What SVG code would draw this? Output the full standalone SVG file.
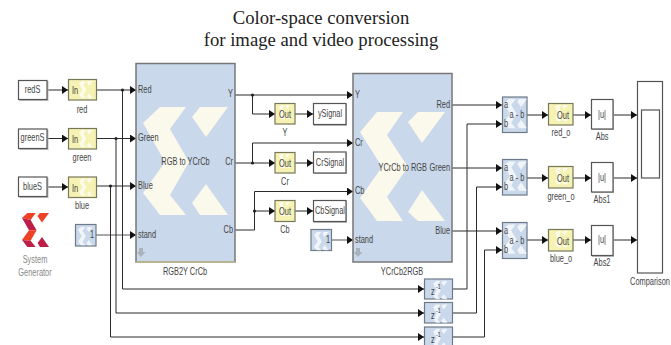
<svg xmlns="http://www.w3.org/2000/svg" xmlns:xlink="http://www.w3.org/1999/xlink" width="671" height="345" viewBox="0 0 671 345">
<style>
text{font-family:"Liberation Sans",Arial,sans-serif;font-size:10px;fill:#444;transform-box:fill-box;transform-origin:0% 50%;transform:scaleX(.74)}
.t{font-family:"Liberation Serif","Times New Roman",serif;font-size:18.7px;fill:#222;text-anchor:middle;transform:none}
.m{text-anchor:middle;transform-origin:50% 50%}
.e{text-anchor:end;transform-origin:100% 50%}
.w{fill:#fff;stroke:#555;stroke-width:1.2}
.sh{fill:#bbb}
.y{fill:#f5f2b4;stroke:#77775a;stroke-width:1.2}
.b{fill:#cad8eb;stroke:#6d7a88;stroke-width:1.2}
.big{fill:#cad8eb;stroke:#777;stroke-width:1.5}
.c{fill:none;stroke:#2a2a2a;stroke-width:1}
.a{marker-end:url(#ar)}
.d{fill:#222}
.xb{fill:#fbf8ec}
.xs{fill:#fff;opacity:.75}
.ar2{fill:#aab2bb}
</style>
<defs>
<marker id="ar" markerUnits="userSpaceOnUse" markerWidth="7" markerHeight="8" refX="6" refY="4" orient="auto"><path d="M0 0L6 4L0 8Z" fill="#111"/></marker>
<g id="xm">
<path d="M0 16L17 0H43L27 22L46 55L27 88L43 108H17L0 86L22 55Z"/>
<path d="M49 10L57 0H85L63 30Z"/>
<path d="M49 96L63 77L85 108H57Z"/>
</g>
</defs>

<text class="t" x="321" y="23.500">Color-space conversion</text>
<text class="t" x="321" y="45.500">for image and video processing</text>

<g id="connectors">
<path class="c a" d="M47 90H68"/><path class="c a" d="M47 138.500H68"/><path class="c a" d="M47 187H68"/>
<path class="c a" d="M97 90H136"/><path class="c a" d="M97 138.500H136"/><path class="c a" d="M97 186H136"/>
<path class="c a" d="M96 235H136" style="stroke:#555"/>
<path class="c a" d="M122.500 90V289H424"/>
<path class="c a" d="M116 138.500V313H424"/>
<path class="c a" d="M110.500 186V337H424"/>
<path class="c a" d="M235 95H353"/>
<path class="c a" d="M252.500 95V114H275"/>
<path class="c a" d="M295 114H313"/>
<path class="c" d="M235 163H252.500"/>
<path class="c a" d="M252.500 163V143H353"/>
<path class="c a" d="M252.500 163H275"/>
<path class="c a" d="M295 163H313"/>
<path class="c" d="M235 230H254.500"/>
<path class="c a" d="M254.500 230V191.500H353"/>
<path class="c a" d="M254.500 211H275"/>
<path class="c a" d="M295 211H313"/>
<path class="c a" d="M332 240H353" style="stroke:#555"/>
<path class="c a" d="M452 105H502"/><path class="c a" d="M452 168H502"/><path class="c a" d="M452 231H502"/>
<path class="c a" d="M452 289H467V124H502"/>
<path class="c a" d="M452 313H476.500V187H502"/>
<path class="c a" d="M452 337H484.500V250H502"/>
<path class="c a" d="M527 115H548"/><path class="c a" d="M527 178H548"/><path class="c a" d="M527 240H548"/>
<path class="c a" d="M573 115H591"/><path class="c a" d="M573 178H591"/><path class="c a" d="M573 240H591"/>
<path class="c a" d="M613 115H637"/><path class="c a" d="M613 178H637"/><path class="c a" d="M613 240H637"/>
<circle class="d" cx="122.500" cy="90" r="1.600"/><circle class="d" cx="116" cy="138.500" r="1.600"/><circle class="d" cx="110.500" cy="186" r="1.600"/>
<circle class="d" cx="252.500" cy="95" r="1.600"/><circle class="d" cx="252.500" cy="163" r="1.600"/><circle class="d" cx="254.500" cy="211" r="1.600"/>
</g>

<g id="redS"><rect class="sh" x="19.500" y="81" width="29" height="20"/><rect class="w" x="18.500" y="80.500" width="28.500" height="19"/><text class="m" x="32.500" y="93.500">redS</text></g>
<g id="greenS"><rect class="sh" x="19.500" y="130" width="29" height="20"/><rect class="w" x="18.500" y="129" width="28.500" height="19.500"/><text class="m" x="32.500" y="141.500">greenS</text></g>
<g id="blueS"><rect class="sh" x="19.500" y="178" width="29" height="20"/><rect class="w" x="18.500" y="177" width="28.500" height="19.500"/><text class="m" x="32.500" y="190">blueS</text></g>

<g id="in-red"><rect class="y" x="68.500" y="79.500" width="28" height="20.500"/><use href="#xm" class="xs" transform="translate(79 81) scale(.16)"/><text x="72" y="94">In</text><text class="m" x="82" y="113">red</text></g>
<g id="in-green"><rect class="y" x="68.500" y="128.500" width="28" height="20.500"/><use href="#xm" class="xs" transform="translate(79 130) scale(.16)"/><text x="72" y="143">In</text><text class="m" x="82" y="161">green</text></g>
<g id="in-blue"><rect class="y" x="68.500" y="177" width="28" height="20.500"/><use href="#xm" class="xs" transform="translate(79 178.500) scale(.16)"/><text x="72" y="192">In</text><text class="m" x="82" y="209">blue</text></g>

<g id="const1"><rect class="b" x="75.500" y="224.500" width="20.500" height="21.500"/><use href="#xm" class="xs" transform="translate(78 227) scale(.17)"/><text x="90" y="238.500">1</text></g>

<g id="logo">
<path d="M22 218L27.400 213H35.700L30.600 220Z" fill="#ee4227"/>
<path d="M22 218L30.600 220L36.600 230.300H29Z" fill="#bd1f48"/>
<path d="M29 230.300H36.600L30.600 240.700L22 240Z" fill="#ee4227"/>
<path d="M22 240L30.600 240.700L35.700 247H27.400Z" fill="#bd1f48"/>
<path d="M37.400 216L40 213H49L42 222.500Z" fill="#ee4227"/>
<path d="M37.600 243L42 237L49 247H40Z" fill="#bd1f48"/>
<text class="m" x="35" y="263" style="fill:#888">System</text>
<text class="m" x="35" y="276" style="fill:#888">Generator</text>
</g>

<g id="RGB2YCrCb">
<rect class="big" x="136" y="63.500" width="99" height="198.500"/>
<path d="M136 262H235" stroke="#e0d38a" stroke-width="1"/>
<use href="#xm" class="xb" transform="translate(143 107)"/>
<path class="ar2" d="M139 254h4v4h2.500l-4.500 5-4.500-5h2.500Z" transform="translate(0 -6)"/>
<text x="138" y="93">Red</text><text x="138" y="141.500">Green</text><text x="138" y="189.500">Blue</text><text x="138" y="238.500">stand</text>
<text class="m" x="185.500" y="165.500">RGB to YCrCb</text>
<text class="e" x="233" y="97.500">Y</text><text class="e" x="233" y="165.500">Cr</text><text class="e" x="233" y="233">Cb</text>
<text class="m" x="185" y="275">RGB2Y CrCb</text>
</g>

<g id="out-y"><rect class="y" x="275" y="103.500" width="20" height="20.500"/><use href="#xm" class="xs" transform="translate(279 105) scale(.13)"/><text class="m" x="285" y="118">Out</text><text class="m" x="285" y="136">Y</text></g>
<g id="out-cr"><rect class="y" x="275" y="152.500" width="20" height="20.500"/><use href="#xm" class="xs" transform="translate(279 154) scale(.13)"/><text class="m" x="285" y="167">Out</text><text class="m" x="285" y="185">Cr</text></g>
<g id="out-cb"><rect class="y" x="275" y="200.500" width="20" height="21"/><use href="#xm" class="xs" transform="translate(279 202) scale(.13)"/><text class="m" x="285" y="215">Out</text><text class="m" x="285" y="233">Cb</text></g>

<g id="ySignal"><rect class="sh" x="314" y="104" width="33" height="22"/><rect class="w" x="313.500" y="103.500" width="32.500" height="21"/><text class="m" x="330" y="117.500">ySignal</text></g>
<g id="CrSignal"><rect class="sh" x="314" y="153" width="33" height="21"/><rect class="w" x="313.500" y="152" width="32.500" height="21"/><text class="m" x="330" y="166">CrSignal</text></g>
<g id="CbSignal"><rect class="sh" x="314" y="201" width="33" height="22"/><rect class="w" x="313.500" y="200.500" width="32.500" height="21"/><text class="m" x="330" y="214.500">CbSignal</text></g>

<g id="const2"><rect class="b" x="311" y="229.500" width="20.500" height="21"/><use href="#xm" class="xs" transform="translate(314 232) scale(.17)"/><text x="326" y="243.500">1</text></g>

<g id="YCrCb2RGB">
<rect class="big" x="353" y="73.500" width="99" height="188.500"/>
<path d="M360 132L377 112H403L387 135L408 167L387 197L403 221H377L360 198L382 167Z" class="xb"/>
<path d="M408 122L418 112H445L422 143Z" class="xb"/>
<path d="M408 212L422 190L445 221H418Z" class="xb"/>
<path class="ar2" d="M356 254h4v4h2.500l-4.500 5-4.500-5h2.500Z" transform="translate(0 -6)"/>
<text x="355" y="98.500">Y</text><text x="355" y="146.500">Cr</text><text x="355" y="194.500">Cb</text><text x="355" y="243.500">stand</text>
<text x="378.500" y="171.500">YCrCb to RGB</text>
<text class="e" x="450" y="108.500">Red</text><text class="e" x="450" y="171.500">Green</text><text class="e" x="450" y="234.500">Blue</text>
<text class="m" x="402" y="275">YCrCb2RGB</text>
</g>

<g id="delay1"><rect class="b" x="424.500" y="279" width="28" height="20"/><use href="#xm" class="xs" transform="translate(433 281) scale(.17)"/><text x="431" y="295">z</text><text x="436" y="289.500" style="font-size:7px">-1</text></g>
<g id="delay2"><rect class="b" x="424.500" y="302.500" width="28" height="20.500"/><use href="#xm" class="xs" transform="translate(433 304.500) scale(.17)"/><text x="431" y="319">z</text><text x="436" y="313.500" style="font-size:7px">-1</text></g>
<g id="delay3"><rect class="b" x="424.500" y="327" width="28" height="20"/><use href="#xm" class="xs" transform="translate(433 329) scale(.17)"/><text x="431" y="343">z</text><text x="436" y="337.500" style="font-size:7px">-1</text></g>

<g id="sub1"><rect class="b" x="502.500" y="97" width="24.500" height="35.500"/><use href="#xm" class="xs" transform="translate(504 99) scale(.27)"/><text x="504" y="108">a</text><text x="504" y="127.500">b</text><text class="m" x="517" y="118.500">a - b</text></g>
<g id="sub2"><rect class="b" x="502.500" y="159.500" width="24.500" height="35.500"/><use href="#xm" class="xs" transform="translate(504 161.500) scale(.27)"/><text x="504" y="171">a</text><text x="504" y="190.500">b</text><text class="m" x="517" y="181.500">a - b</text></g>
<g id="sub3"><rect class="b" x="502.500" y="222.500" width="24.500" height="36"/><use href="#xm" class="xs" transform="translate(504 224.500) scale(.27)"/><text x="504" y="234">a</text><text x="504" y="253.500">b</text><text class="m" x="517" y="244.500">a - b</text></g>

<g id="out-red"><rect class="y" x="548.500" y="103.500" width="24.500" height="21.500"/><use href="#xm" class="xs" transform="translate(555 105) scale(.15)"/><text class="m" x="563" y="119">Out</text><text class="m" x="561" y="136">red_o</text></g>
<g id="out-green"><rect class="y" x="548.500" y="166.500" width="24.500" height="21.500"/><use href="#xm" class="xs" transform="translate(555 168) scale(.15)"/><text class="m" x="563" y="182">Out</text><text class="m" x="561" y="200">green_o</text></g>
<g id="out-blue"><rect class="y" x="548.500" y="229.500" width="24.500" height="21.500"/><use href="#xm" class="xs" transform="translate(555 231) scale(.15)"/><text class="m" x="563" y="245">Out</text><text class="m" x="561" y="262">blue_o</text></g>

<g id="abs"><rect class="sh" x="592" y="100" width="22" height="30"/><rect class="w" x="591.500" y="99.500" width="21.500" height="29.500"/><text class="m" x="602" y="118">|u|</text><text class="m" x="602" y="140">Abs</text></g>
<g id="abs1"><rect class="sh" x="592" y="163" width="22" height="30"/><rect class="w" x="591.500" y="162.500" width="21.500" height="29.500"/><text class="m" x="602" y="181">|u|</text><text class="m" x="602" y="203">Abs1</text></g>
<g id="abs2"><rect class="sh" x="592" y="226" width="22" height="31"/><rect class="w" x="591.500" y="225.500" width="21.500" height="30"/><text class="m" x="602" y="243">|u|</text><text class="m" x="602" y="266">Abs2</text></g>

<g id="comparison"><rect class="w" x="637.500" y="81.500" width="25" height="191.500"/><rect class="w" x="641.500" y="110" width="18" height="68"/><text class="m" x="650" y="285">Comparison</text></g>
</svg>
